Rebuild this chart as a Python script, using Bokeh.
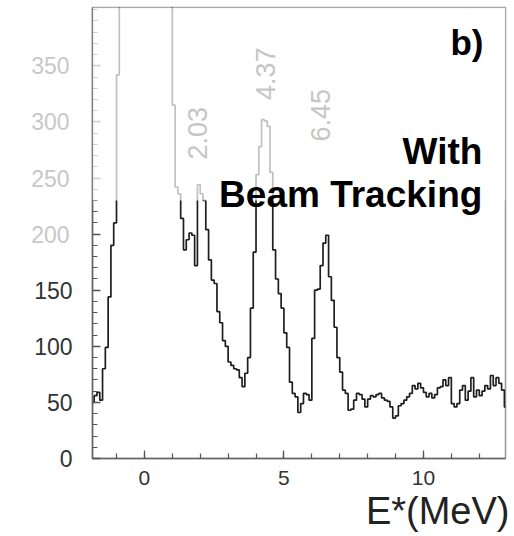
import numpy as np
from bokeh.plotting import figure
from bokeh.models import (Range1d, FixedTicker, SingleIntervalTicker, BoxAnnotation,
                          Label, LinearAxis, Title)
from bokeh.core.properties import value
from bokeh.embed import file_html
from bokeh.resources import INLINE

# ---- data: histogram of E* (MeV), 0.1 MeV bins starting at -1.9 ----
bin_start = -1.9
bin_width = 0.1
counts = [
    50, 56, 59, 52, 80, 99, 144, 190, 210, 342,            # -1.9 .. -1.0
    560, 980, 1600, 2300, 2900, 3200, 3300, 3100, 2700, 2200,  # -0.9 .. 0.0
    1750, 1400, 1100, 900, 760, 640, 560, 490, 430,        # 0.1 .. 0.9
    315, 242, 236, 214, 186, 195, 201, 199, 172, 244,      # 1.0 .. 1.9
    236, 230, 204, 177, 159, 156, 131, 121, 105, 100,      # 2.0 .. 2.9
    86, 83, 80, 79, 72, 64, 76, 90, 134, 184,              # 3.0 .. 3.9
    253, 278, 302, 301, 296, 255, 186, 160, 147, 134,      # 4.0 .. 4.9
    112, 99, 68, 58, 55, 41, 49, 58, 57, 52,               # 5.0 .. 5.9
    107, 150, 151, 172, 192, 199, 162, 141, 117, 90,       # 6.0 .. 6.9
    77, 61, 58, 43, 44, 52, 58, 57, 53, 46,                # 7.0 .. 7.9
    53, 56, 55, 57, 58, 54, 52, 51, 46, 36,                # 8.0 .. 8.9
    38, 47, 49, 52, 55, 58, 65, 62, 67, 63,                # 9.0 .. 9.9
    59, 55, 58, 54, 57, 63, 64, 70, 65, 72,                # 10.0 .. 10.9
    49, 46, 49, 61, 65, 52, 60, 72, 55, 61,                # 11.0 .. 11.9
    56, 60, 65, 62, 74, 65, 72, 67, 61, 46,                # 12.0 .. 12.9
]
edges = [round(bin_start + i * bin_width, 2) for i in range(len(counts) + 1)]

peak_names = ["2.03", "4.37", "6.45"]
peak_label_x = [1.90, 4.34, 6.31]
peak_label_y = [290, 343, 306]

y_major = [0, 50, 100, 150, 200, 250, 300, 350]
y_minor = list(range(0, 410, 10))
y_faded = [200, 250, 300, 350]

x_lo, x_hi = -1.86, 12.94
y_lo, y_hi = 0, 402

FONT = "Liberation Sans"

p = figure(width=514, height=536, output_backend="svg", toolbar_location=None,
           x_range=Range1d(x_lo, x_hi), y_range=Range1d(y_lo, y_hi))
p.min_border_left = 92
p.min_border_right = 9
p.min_border_top = 7
p.min_border_bottom = 78
p.background_fill_color = "white"
p.border_fill_color = "white"
p.outline_line_color = "#999999"
p.outline_line_width = 1.5
p.xgrid.visible = False
p.ygrid.visible = False

# histogram outline
p.step(x=edges, y=counts + [counts[-1]], mode="after",
       line_color="#1e1e1e", line_width=1.7)

# axes
xa = p.xaxis[0]
xa.ticker = SingleIntervalTicker(interval=5, num_minor_ticks=5)
ya = p.yaxis[0]
ya.ticker = FixedTicker(ticks=y_major, minor_ticks=y_minor)
ya.major_label_overrides = {v: "" for v in y_faded}
for ax in (xa, ya):
    ax.axis_line_color = "#666666"
    ax.axis_line_width = 1.5
    ax.major_tick_in = 8
    ax.major_tick_out = 0
    ax.minor_tick_in = 5
    ax.minor_tick_out = 0
    ax.major_tick_line_color = "#555555"
    ax.minor_tick_line_color = "#555555"
    ax.major_tick_line_width = 1.3
    ax.minor_tick_line_width = 1.2
    ax.major_label_text_font = FONT
    ax.major_label_text_color = "#333333"
xa.major_label_text_font_size = "21px"
xa.major_label_standoff = 12
ya.major_label_text_font_size = "23px"
ya.major_label_standoff = 20

# faded labels of the upper y ticks (second axis, pulled back onto the first)
ya2 = LinearAxis(ticker=FixedTicker(ticks=y_faded, minor_ticks=[]),
                 axis_line_alpha=0, major_tick_line_alpha=0,
                 minor_tick_line_alpha=0, major_tick_in=0, major_tick_out=0,
                 minor_tick_in=0, minor_tick_out=0,
                 major_label_text_font=FONT, major_label_text_font_size="23px",
                 major_label_text_color="#c8c8c8", major_label_standoff=-38)
p.add_layout(ya2, "left")

# x-axis title
p.add_layout(Title(text="E*(MeV)", align="right", text_font=FONT,
                   text_font_size="38px", text_font_style="normal",
                   text_color="#222222", standoff=0, offset=-4,
                   text_line_height=0.9), "below")

# faded upper region (as in the scanned original)
p.add_layout(BoxAnnotation(bottom=230, fill_color="white", fill_alpha=0.72,
                           line_alpha=0))

# peak labels
p.text(x=peak_label_x, y=peak_label_y, text=peak_names, angle=np.pi / 2,
       text_align="center", text_baseline="middle", text_color="#c6c6c6",
       text_font=value(FONT), text_font_size="27px", level="overlay")

# panel texts
p.add_layout(Label(x=12.15, y=370.5, text="b)", text_align="right",
                   text_baseline="alphabetic", text_font=FONT,
                   text_font_style="bold", text_font_size="35px",
                   text_color="black"))
p.add_layout(Label(x=12.11, y=274, text="With", text_align="right",
                   text_baseline="alphabetic", text_font=FONT,
                   text_font_style="bold", text_font_size="37px",
                   text_color="black"))
p.add_layout(Label(x=12.11, y=235.5, text="Beam Tracking", text_align="right",
                   text_baseline="alphabetic", text_font=FONT,
                   text_font_style="bold", text_font_size="37px",
                   text_color="black"))

open("out.html", "w").write(file_html(p, INLINE))
